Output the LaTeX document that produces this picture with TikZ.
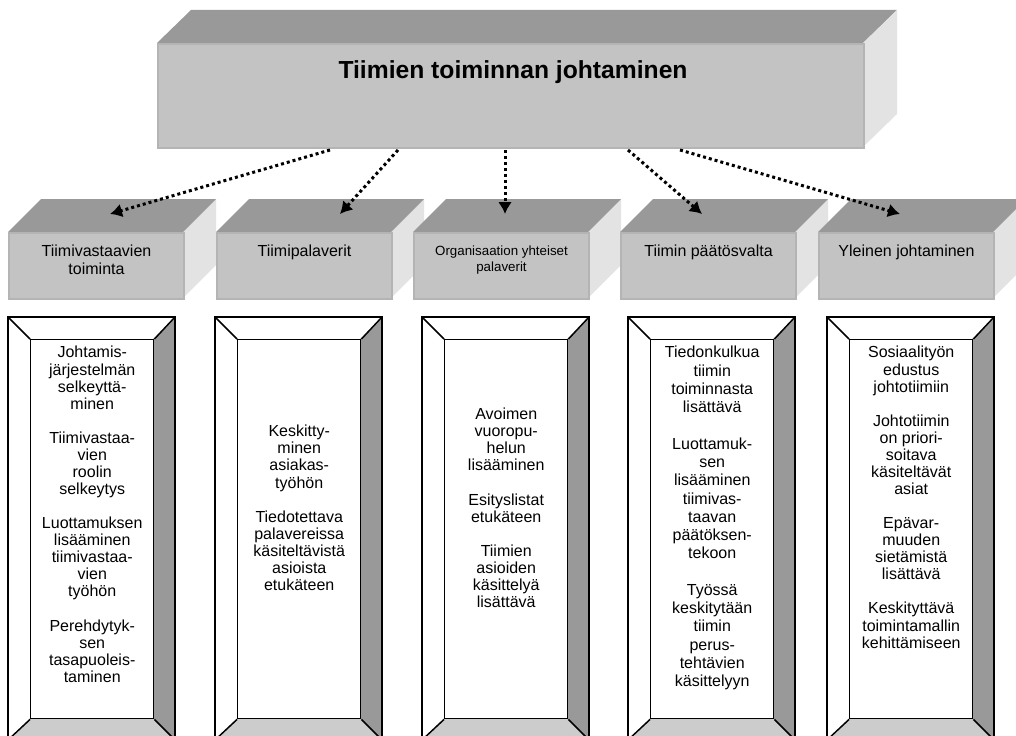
\documentclass[tikz,border=0pt]{standalone}
\usepackage{fontspec}
\setmainfont{Liberation Sans}
\usetikzlibrary{arrows.meta}
\definecolor{topgray}{RGB}{153,153,153}
\definecolor{sidegray}{RGB}{227,227,227}
\definecolor{frontgray}{RGB}{195,195,195}
\definecolor{edgegray}{RGB}{180,180,180}
\definecolor{bevelgray}{RGB}{204,204,204}
\begin{document}
\begin{tikzpicture}[x=0.75pt, y=-0.75pt,
    front/.style={fill=frontgray, draw=edgegray, line width=1.5pt, inner sep=0pt},
    frame/.style={draw, line width=1.1pt},
    txt/.style={align=center, font=\fontsize{12}{13.8}\selectfont},
    boxtxt/.style={align=center, font=\fontsize{12}{12.8}\selectfont},
    flow/.style={line width=2.25pt, dash pattern=on 2.25pt off 2.25pt, -{Latex[length=9pt,width=10.5pt]}}]
    \useasboundingbox (0,0) rectangle (1016,735);
    \clip (0,0) rectangle (1016,735);
    % top block
    \fill[topgray] (157,43) -- (191,10) -- (897,10) -- (863,43) -- cycle;
    \fill[sidegray] (863,43) -- (897,10) -- (897,114) -- (863,147) -- cycle;
    \node[front, anchor=north west, minimum width=529.5pt, minimum height=78pt] (top) at (157,43) {};
    \node[font=\bfseries\fontsize{18.5}{21}\selectfont] (title) at (513,72) {Tiimien toiminnan johtaminen};
    % middle blocks
    \foreach \i/\x in {1/8, 2/216, 3/413, 4/620, 5/818} {
        \fill[sidegray] (\x+175,232) -- ++(33,-33) -- ++(0,66) -- ++(-33,33) -- cycle;
        \fill[topgray] (\x,232) -- ++(33,-33) -- ++(175,0) -- ++(-33,33) -- cycle;
        \node[front, anchor=north west, minimum width=131.25pt, minimum height=49.5pt] (mid\i) at (\x,232) {};
    }
    \node[txt, anchor=north] (lab1) at ([yshift=-6pt]mid1.north) {Tiimivastaavien\\toiminta};
    \node[txt, anchor=north] (lab2) at ([yshift=-6pt]mid2.north) {Tiimipalaverit};
    \node[txt, anchor=north, font=\fontsize{10}{11.5}\selectfont] (lab3) at ([yshift=-7pt]mid3.north) {Organisaation yhteiset\\palaverit};
    \node[txt, anchor=north] (lab4) at ([yshift=-6pt]mid4.north) {Tiimin päätösvalta};
    \node[txt, anchor=north] (lab5) at ([yshift=-6pt]mid5.north) {Yleinen johtaminen};
    % arrows
    \foreach \i/\a/\b in {1/330/110, 2/398/340, 3/505/505, 4/628/702, 5/680/900} {
        \coordinate (s\i) at (\a,150);
        \coordinate (t\i) at (\b,214);
        \draw[flow] (s\i) -- (t\i);
    }
    % framed boxes
    \foreach \i/\x in {1/8, 2/215, 3/422, 4/628, 5/827} {
        \fill[white] (\x,317) rectangle ++(167,423);
        \fill[topgray] (\x+167,317) -- (\x+145,339) -- (\x+145,718) -- (\x+167,740) -- cycle;
        \fill[bevelgray] (\x,740) -- (\x+22,718) -- (\x+145,718) -- (\x+167,740) -- cycle;
        \node[frame, fill=white, anchor=north west, minimum width=92.25pt, minimum height=284.25pt, inner sep=0pt] (box\i) at (\x+22,339) {};
        \draw[frame] (\x,317) rectangle ++(167,423);
        \draw[frame] (box\i.north west) -- (\x,317) (box\i.north east) -- (\x+167,317)
            (box\i.south west) -- (\x,740) (box\i.south east) -- (\x+167,740);
    }
    \node[boxtxt, anchor=north] (txt1) at ([yshift=-2pt]box1.north) {Johtamis-\\järjestelmän\\selkeyttä-\\minen\\[12.8pt]Tiimivastaa-\\vien\\roolin\\selkeytys\\[12.8pt]Luottamuksen\\lisääminen\\tiimivastaa-\\vien\\työhön\\[12.8pt]Perehdytyk-\\sen\\tasapuoleis-\\taminen};
    \node[boxtxt] (txt2) at ([yshift=16pt]box2.center) {Keskitty-\\minen\\asiakas-\\työhön\\[12.8pt]Tiedotettava\\palavereissa\\käsiteltävistä\\asioista\\etukäteen};
    \node[boxtxt] (txt3) at ([yshift=16pt]box3.center) {Avoimen\\vuoropu-\\helun\\lisääminen\\[12.8pt]Esityslistat\\etukäteen\\[12.8pt]Tiimien\\asioiden\\käsittelyä\\lisättävä};
    \node[boxtxt, anchor=north, font=\fontsize{12}{13.7}\selectfont] (txt4) at ([yshift=-2pt]box4.north) {Tiedonkulkua\\tiimin\\toiminnasta\\lisättävä\\[13.7pt]Luottamuk-\\sen\\lisääminen\\tiimivas-\\taavan\\päätöksen-\\tekoon\\[13.7pt]Työssä\\keskitytään\\tiimin\\perus-\\tehtävien\\käsittelyyn};
    \node[boxtxt, anchor=north] (txt5) at ([yshift=-2pt]box5.north) {Sosiaalityön\\edustus\\johtotiimiin\\[12.8pt]Johtotiimin\\on priori-\\soitava\\käsiteltävät\\asiat\\[12.8pt]Epävar-\\muuden\\sietämistä\\lisättävä\\[12.8pt]Keskityttävä\\toimintamallin\\kehittämiseen};
\end{tikzpicture}
\end{document}
